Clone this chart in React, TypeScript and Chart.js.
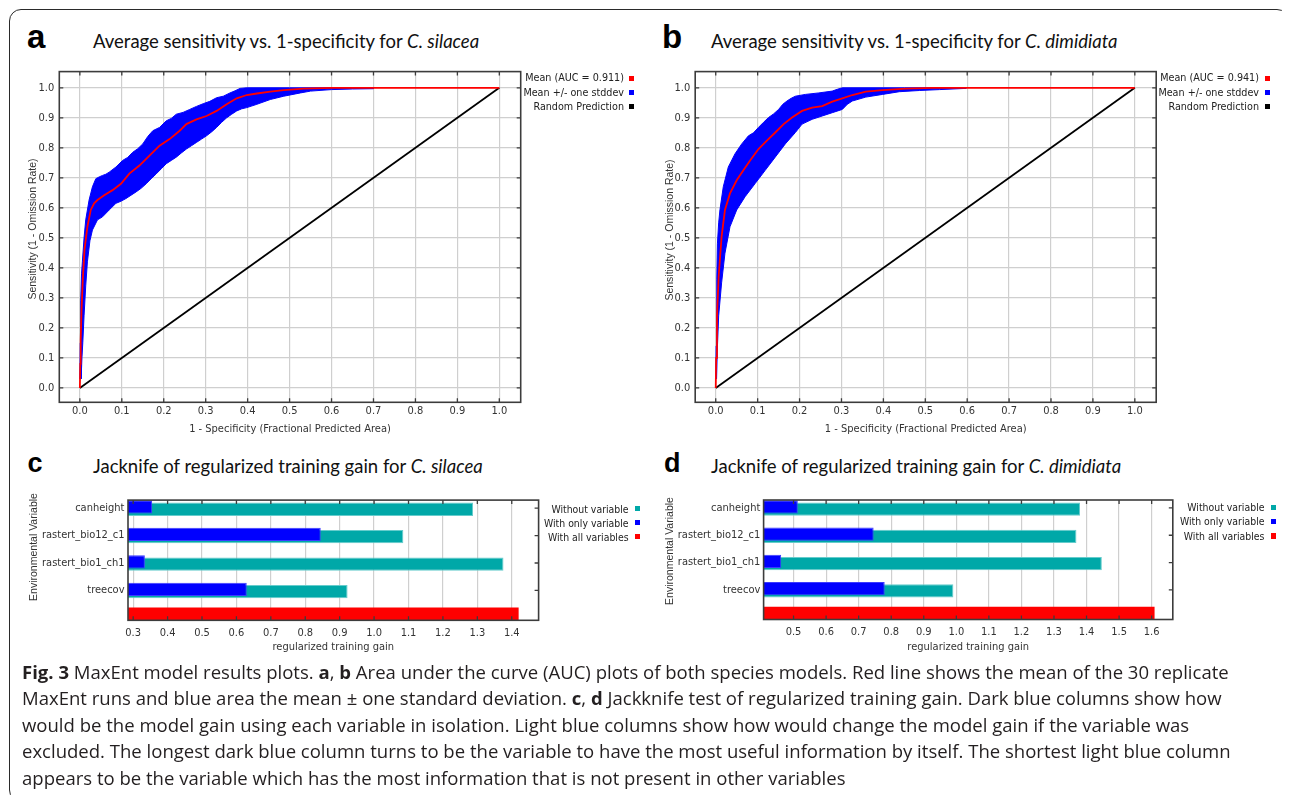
import React, { useEffect, useRef } from "react";
import { Chart, registerables } from "chart.js";

Chart.register(...registerables);

// ---------------- data ----------------
const ROC_TICKS = [0, 0.1, 0.2, 0.3, 0.4, 0.5, 0.6, 0.7, 0.8, 0.9, 1.0];
const RANDOM_X = [0, 1];
const RANDOM_Y = [0, 1];

// Panel a (C. silacea)
const A_MEAN_X = [0, 0.001, 0.002, 0.004, 0.007, 0.011, 0.018, 0.026, 0.034, 0.042, 0.058, 0.078, 0.098, 0.118, 0.142, 0.166, 0.19, 0.214, 0.238, 0.254, 0.278, 0.302, 0.326, 0.35, 0.374, 0.398, 0.422, 0.454, 0.486, 0.534, 0.6, 1.0];
const A_MEAN_Y = [0, 0.08, 0.16, 0.26, 0.36, 0.46, 0.537, 0.593, 0.615, 0.626, 0.642, 0.659, 0.68, 0.714, 0.741, 0.774, 0.807, 0.829, 0.857, 0.879, 0.895, 0.906, 0.923, 0.945, 0.965, 0.976, 0.981, 0.987, 0.992, 0.997, 1.0, 1.0];
const A_UPPER_X = [0, 0.001, 0.002, 0.004, 0.006, 0.01, 0.014, 0.022, 0.03, 0.038, 0.046, 0.054, 0.062, 0.07, 0.086, 0.102, 0.114, 0.126, 0.138, 0.15, 0.162, 0.174, 0.19, 0.206, 0.218, 0.23, 0.246, 0.262, 0.278, 0.294, 0.31, 0.326, 0.342, 0.358, 0.37, 0.382, 0.398, 0.5, 0.6, 0.7];
const A_UPPER_Y = [0.03, 0.15, 0.29, 0.38, 0.42, 0.5, 0.56, 0.626, 0.67, 0.697, 0.703, 0.708, 0.712, 0.719, 0.736, 0.758, 0.768, 0.785, 0.797, 0.813, 0.838, 0.857, 0.868, 0.89, 0.898, 0.912, 0.918, 0.928, 0.938, 0.947, 0.955, 0.967, 0.972, 0.983, 0.99, 0.998, 1.0, 1.0, 1.0, 0.999];
const A_LOWER_X = [0.003, 0.005, 0.007, 0.01, 0.014, 0.018, 0.024, 0.03, 0.042, 0.054, 0.07, 0.086, 0.098, 0.11, 0.122, 0.134, 0.146, 0.158, 0.17, 0.182, 0.194, 0.206, 0.218, 0.23, 0.242, 0.254, 0.266, 0.278, 0.29, 0.302, 0.314, 0.326, 0.338, 0.35, 0.362, 0.374, 0.386, 0.398, 0.422, 0.454, 0.486, 0.526, 0.55, 0.6, 0.65, 0.7];
const A_LOWER_Y = [0.03, 0.1, 0.15, 0.24, 0.34, 0.42, 0.49, 0.526, 0.56, 0.57, 0.593, 0.615, 0.622, 0.631, 0.642, 0.653, 0.665, 0.68, 0.697, 0.713, 0.73, 0.747, 0.758, 0.769, 0.783, 0.796, 0.807, 0.818, 0.829, 0.84, 0.853, 0.868, 0.885, 0.9, 0.912, 0.923, 0.93, 0.934, 0.945, 0.961, 0.972, 0.983, 0.989, 0.994, 0.996, 0.997];

// Panel b (C. dimidiata)
const B_MEAN_X = [0, 0.001, 0.003, 0.007, 0.014, 0.022, 0.034, 0.05, 0.066, 0.082, 0.102, 0.122, 0.142, 0.162, 0.182, 0.206, 0.23, 0.254, 0.278, 0.302, 0.326, 0.358, 0.398, 0.454, 0.518, 1.0];
const B_MEAN_Y = [0, 0.1, 0.24, 0.372, 0.504, 0.593, 0.648, 0.692, 0.725, 0.758, 0.796, 0.824, 0.851, 0.879, 0.901, 0.923, 0.934, 0.939, 0.954, 0.965, 0.976, 0.987, 0.992, 0.997, 1.0, 1.0];
const B_UPPER_X = [0, 0.001, 0.002, 0.003, 0.004, 0.007, 0.01, 0.018, 0.03, 0.046, 0.062, 0.078, 0.09, 0.102, 0.114, 0.126, 0.138, 0.15, 0.16, 0.17, 0.18, 0.19, 0.214, 0.246, 0.278, 0.29, 0.302, 0.45, 0.597];
const B_UPPER_Y = [0.03, 0.14, 0.24, 0.36, 0.48, 0.55, 0.593, 0.67, 0.736, 0.78, 0.813, 0.84, 0.85, 0.868, 0.885, 0.901, 0.913, 0.928, 0.945, 0.956, 0.965, 0.972, 0.978, 0.983, 0.989, 0.995, 1.0, 1.0, 1.0];
const B_LOWER_X = [0.002, 0.004, 0.007, 0.014, 0.022, 0.034, 0.05, 0.07, 0.094, 0.118, 0.142, 0.166, 0.19, 0.206, 0.23, 0.254, 0.278, 0.302, 0.314, 0.326, 0.358, 0.398, 0.438, 0.486, 0.534, 0.597];
const B_LOWER_Y = [0.03, 0.136, 0.24, 0.35, 0.449, 0.537, 0.593, 0.637, 0.681, 0.725, 0.769, 0.813, 0.851, 0.879, 0.895, 0.906, 0.917, 0.928, 0.945, 0.956, 0.969, 0.978, 0.987, 0.991, 0.994, 0.998];

const ROC_LEGEND_A = ["Mean (AUC = 0.911)", "Mean +/- one stddev", "Random Prediction"];
const ROC_LEGEND_B = ["Mean (AUC = 0.941)", "Mean +/- one stddev", "Random Prediction"];
const ROC_COLORS = ["#ff0000", "#0000ff", "#000000"];

// Jackknife panels
const JK_CATEGORIES = ["canheight", "rastert_bio12_c1", "rastert_bio1_ch1", "treecov", ""];
const C_WITHOUT = [1.2875, 1.085, 1.376, 0.923, null];
const C_WITH_ONLY = [0.355, 0.845, 0.334, 0.63, null];
const C_WITH_ALL = [null, null, null, null, 1.42];
const C_TICKS = [0.3, 0.4, 0.5, 0.6, 0.7, 0.8, 0.9, 1.0, 1.1, 1.2, 1.3, 1.4];
const D_WITHOUT = [1.38, 1.369, 1.447, 0.991, null];
const D_WITH_ONLY = [0.513, 0.746, 0.462, 0.78, null];
const D_WITH_ALL = [null, null, null, null, 1.609];
const D_TICKS = [0.5, 0.6, 0.7, 0.8, 0.9, 1.0, 1.1, 1.2, 1.3, 1.4, 1.5, 1.6];
const JK_LEGEND = ["Without variable", "With only variable", "With all variables"];
const JK_COLORS = ["#00a8a8", "#0000ff", "#ff0000"];

// ---------------- styling ----------------
const NARROW = "'Liberation Sans Narrow','Arial Narrow','DejaVu Sans Condensed','Liberation Sans',sans-serif";
const ARIAL = "'Liberation Sans',Arial,sans-serif";
const GRID = "#cfcfcf";
const FRAME = "#3c3c3c";
const TXT = "#333333";

const pts = (xs: number[], ys: number[]) => xs.map((x, i) => ({ x, y: ys[i] }));

function framePlugin(sides: { top?: boolean; bottom?: boolean; left?: boolean; right?: boolean }) {
  return {
    id: "frameTicks",
    afterDatasetsDraw(chart: any) {
      const { ctx, chartArea: a, scales } = chart;
      const len = 4;
      ctx.save();
      ctx.strokeStyle = FRAME;
      ctx.lineWidth = 1.3;
      ctx.beginPath();
      for (const t of scales.x.ticks) {
        const px = scales.x.getPixelForValue(t.value);
        if (sides.top) { ctx.moveTo(px, a.top); ctx.lineTo(px, a.top + len); }
        if (sides.bottom) { ctx.moveTo(px, a.bottom); ctx.lineTo(px, a.bottom - len); }
      }
      for (const t of scales.y.ticks) {
        if (t.label === "") continue;
        const py = scales.y.getPixelForValue(t.value);
        if (sides.left) { ctx.moveTo(a.left, py); ctx.lineTo(a.left + len, py); }
        if (sides.right) { ctx.moveTo(a.right, py); ctx.lineTo(a.right - len, py); }
      }
      ctx.stroke();
      ctx.lineWidth = 1.6;
      ctx.strokeRect(a.left, a.top, a.right - a.left, a.bottom - a.top);
      ctx.restore();
    },
  };
}

function rocConfig(mx: number[], my: number[], ux: number[], uy: number[], lx: number[], ly: number[], geo: any) {
  const band = [...pts(ux, uy), ...pts(lx, ly).reverse()];
  return {
    type: "scatter",
    data: {
      datasets: [
        { label: "Mean", data: pts(mx, my), showLine: true, borderColor: "#ff0000", borderWidth: 1.8, pointRadius: 0, order: 0 },
        { label: "Random Prediction", data: pts(RANDOM_X, RANDOM_Y), showLine: true, borderColor: "#000000", borderWidth: 1.8, pointRadius: 0, order: 1 },
        { label: "Mean +/- one stddev", data: band, showLine: true, borderColor: "#0000ff", borderWidth: 1, backgroundColor: "#0000ff", fill: "shape", pointRadius: 0, order: 2 },
      ],
    },
    options: {
      responsive: false,
      animation: false,
      events: [],
      layout: { padding: { left: 0, top: geo.top, right: geo.right, bottom: 0 } },
      plugins: { legend: { display: false }, tooltip: { enabled: false } },
      scales: {
        x: {
          type: "linear",
          min: -0.049,
          max: 1.051,
          afterBuildTicks: (s: any) => { s.ticks = ROC_TICKS.map((v) => ({ value: v })); },
          afterFit: (s: any) => { s.height = geo.xh; },
          ticks: { callback: (v: any) => Number(v).toFixed(1), font: { family: NARROW, size: 11 }, color: TXT, padding: 2, autoSkip: false, maxRotation: 0 },
          grid: { color: GRID, lineWidth: 1.2, drawTicks: false },
          border: { display: false },
          title: { display: true, text: "1 - Specificity (Fractional Predicted Area)", font: { family: NARROW, size: 11 }, color: TXT, padding: { top: 0, bottom: 9.4 } },
        },
        y: {
          type: "linear",
          min: -0.048,
          max: 1.054,
          afterBuildTicks: (s: any) => { s.ticks = ROC_TICKS.map((v) => ({ value: v })); },
          afterFit: (s: any) => { s.width = geo.yw; },
          ticks: { callback: (v: any) => Number(v).toFixed(1), font: { family: NARROW, size: 11 }, color: TXT, padding: 5, autoSkip: false },
          grid: { color: GRID, lineWidth: 1.2, drawTicks: false },
          border: { display: false },
        },
      },
    },
    plugins: [framePlugin({ top: true, bottom: true, left: true, right: true })],
  };
}

function jkConfig(without: any[], only: any[], all: any[], ticks: number[], xmin: number, xmax: number, geo: any) {
  const rows = (vals: any[]) => vals.map((v, i) => ({ x: v, y: i }));
  return {
    type: "bar",
    data: {
      datasets: [
        { label: "With only variable", data: rows(only), backgroundColor: "#0000ff", borderColor: "#3a3aff", borderWidth: 1, skipNull: true, categoryPercentage: 0.168, barPercentage: 5.78, clip: 0 },
        { label: "Without variable", data: rows(without), backgroundColor: "#00a8a8", borderColor: "#66cccc", borderWidth: 1, skipNull: true, categoryPercentage: 0.168, barPercentage: 5.78, clip: 0 },
        { label: "With all variables", data: rows(all), backgroundColor: "#ff0000", borderColor: "#ff2020", borderWidth: 0, skipNull: true, categoryPercentage: 1, barPercentage: 0.75, clip: 0 },
      ],
    },
    options: {
      indexAxis: "y",
      responsive: false,
      animation: false,
      events: [],
      layout: { padding: { left: 0, top: geo.top, right: geo.right, bottom: 0 } },
      plugins: { legend: { display: false }, tooltip: { enabled: false } },
      scales: {
        x: {
          type: "linear",
          min: xmin,
          max: xmax,
          afterBuildTicks: (s: any) => { s.ticks = ticks.map((v) => ({ value: v })); },
          afterFit: (s: any) => { s.height = geo.xh; },
          ticks: { callback: (v: any) => Number(v).toFixed(1), font: { family: NARROW, size: 11 }, color: TXT, padding: 6, autoSkip: false, maxRotation: 0 },
          grid: { color: GRID, lineWidth: 1.2, drawTicks: false },
          border: { display: false },
          title: { display: true, text: "regularized training gain", font: { family: NARROW, size: 11 }, color: TXT, padding: { top: 0, bottom: 5.9 } },
        },
        y: {
          type: "linear",
          offset: false,
          reverse: true,
          min: -0.292,
          max: 4.088,
          afterBuildTicks: (s: any) => { s.ticks = JK_CATEGORIES.map((_, i) => ({ value: i })); },
          afterFit: (s: any) => { s.width = geo.yw; },
          ticks: { callback: (v: any) => JK_CATEGORIES[v] ?? "", font: { family: NARROW, size: 11 }, color: TXT, padding: geo.ypad, autoSkip: false },
          grid: { display: false, drawTicks: false, offset: false },
          border: { display: false },
        },
      },
    },
    plugins: [framePlugin({ top: true, bottom: true, right: true })],
  };
}

function ChartBox({ x, y, w, h, config }: { x: number; y: number; w: number; h: number; config: any }) {
  const ref = useRef<HTMLCanvasElement>(null);
  useEffect(() => {
    const chart = new Chart(ref.current as HTMLCanvasElement, config);
    return () => chart.destroy();
  }, []);
  return (
    <canvas ref={ref} width={w} height={h} style={{ position: "absolute", left: x - 8, top: y - 8, width: w, height: h }} />
  );
}

const at = (x: number, y: number): React.CSSProperties => ({ position: "absolute", left: x - 8, top: y - 8 });

function Legend({ items, colors, textRight, boxLeft, ys, size }: { items: string[]; colors: string[]; textRight: number; boxLeft: number; ys: number[]; size: number }) {
  return (
    <>
      {items.map((t, i) => (
        <React.Fragment key={t}>
          <div style={{ ...at(textRight - 200, ys[i] - 7), width: 200, height: 14, lineHeight: "14px", textAlign: "right", fontFamily: NARROW, fontSize: size, color: "#222", whiteSpace: "nowrap" }}>{t}</div>
          <div style={{ ...at(boxLeft, ys[i] - 2.7), width: 5.4, height: 5.4, background: colors[i] }} />
        </React.Fragment>
      ))}
    </>
  );
}

function YTitle({ cx, cy, text }: { cx: number; cy: number; text: string }) {
  return (
    <div style={{ ...at(cx, cy), transform: "translate(-50%, -50%) rotate(-90deg)", fontFamily: ARIAL, fontSize: 10.5, color: TXT, whiteSpace: "nowrap", lineHeight: "12px" }}>{text}</div>
  );
}

const LABEL_BIG: React.CSSProperties = { fontFamily: ARIAL, fontWeight: 700, fontSize: 33, lineHeight: "33px", color: "#000" };
const LABEL_SMALL: React.CSSProperties = { fontFamily: ARIAL, fontWeight: 700, fontSize: 27, lineHeight: "27px", color: "#000" };
const TITLE: React.CSSProperties = { fontFamily: "Lato, 'Open Sans', sans-serif", fontSize: 18.5, lineHeight: "18.5px", color: "#111", whiteSpace: "nowrap" };

export default function App() {
  useEffect(() => {
    document.body.style.overflow = "hidden";
  }, []);

  const cfgA = rocConfig(A_MEAN_X, A_MEAN_Y, A_UPPER_X, A_UPPER_Y, A_LOWER_X, A_LOWER_Y, { top: 9.3, right: 16.3, yw: 47.3, xh: 42.7 });
  const cfgB = rocConfig(B_MEAN_X, B_MEAN_Y, B_UPPER_X, B_UPPER_Y, B_LOWER_X, B_LOWER_Y, { top: 9.3, right: 15.8, yw: 48.2, xh: 42.7 });
  const cfgC = jkConfig(C_WITHOUT, C_WITH_ONLY, C_WITH_ALL, C_TICKS, 0.285, 1.478, { top: 10, right: 6.4, yw: 88, xh: 39.7, ypad: 3.5 });
  const cfgD = jkConfig(D_WITHOUT, D_WITH_ONLY, D_WITH_ALL, D_TICKS, 0.408, 1.665, { top: 10, right: 12.2, yw: 95.6, xh: 40.5, ypad: 3.3 });

  const caption: React.CSSProperties = { fontFamily: "'Open Sans', sans-serif", fontSize: 18.55, lineHeight: "26.4px", color: "#231f20", whiteSpace: "pre" };

  return (
    <div style={{ position: "relative", width: 1282, height: 795, marginBottom: -8, overflow: "hidden" }}>
      <div style={{ position: "absolute", left: 0.5, top: 0.5, width: 1280.5, height: 793.5, border: "1.5px solid #2a2a2a", borderRadius: 12, boxSizing: "border-box" }} />

      <div style={{ ...at(27, 20.4), ...LABEL_BIG }}>a</div>
      <div style={{ ...at(662, 20.4), ...LABEL_BIG }}>b</div>
      <div style={{ ...at(27.5, 450.4), ...LABEL_SMALL }}>c</div>
      <div style={{ ...at(664, 450.4), ...LABEL_SMALL }}>d</div>

      <div style={{ ...at(93, 31.9), ...TITLE }}>Average sensitivity vs. 1-specificity for <i>C. silacea</i></div>
      <div style={{ ...at(711, 31.9), ...TITLE }}>Average sensitivity vs. 1-specificity for <i>C. dimidiata</i></div>
      <div style={{ ...at(93, 456.9), ...TITLE }}>Jacknife of regularized training gain for <i>C. silacea</i></div>
      <div style={{ ...at(711, 456.9), ...TITLE }}>Jacknife of regularized training gain for <i>C. dimidiata</i></div>

      <ChartBox x={12} y={60} w={525} h={385} config={cfgA} />
      <ChartBox x={647} y={60} w={525} h={385} config={cfgB} />
      <ChartBox x={40} y={490} w={505} h={170} config={cfgC} />
      <ChartBox x={668} y={490} w={517} h={170} config={cfgD} />

      <YTitle cx={32} cy={229} text="Sensitivity (1 - Omission Rate)" />
      <YTitle cx={668.6} cy={229.5} text="Sensitivity (1 - Omission Rate)" />
      <YTitle cx={33} cy={547} text="Environmental Variable" />
      <YTitle cx={669} cy={551} text="Environmental Variable" />

      <Legend items={ROC_LEGEND_A} colors={ROC_COLORS} textRight={624} boxLeft={628.6} ys={[78.3, 92.7, 106.7]} size={10.7} />
      <Legend items={ROC_LEGEND_B} colors={ROC_COLORS} textRight={1259} boxLeft={1264.5} ys={[78.3, 92.7, 106.7]} size={10.7} />
      <Legend items={JK_LEGEND} colors={JK_COLORS} textRight={628.6} boxLeft={635} ys={[508.5, 522.5, 536.8]} size={10.4} />
      <Legend items={JK_LEGEND} colors={JK_COLORS} textRight={1264.5} boxLeft={1270.7} ys={[507.3, 521.3, 536]} size={10.4} />

      <div style={{ ...at(22, 659), ...caption }}>
        <div><b>Fig. 3</b> MaxEnt model results plots. <b>a</b>, <b>b</b> Area under the curve (AUC) plots of both species models. Red line shows the mean of the 30 replicate</div>
        <div>MaxEnt runs and blue area the mean ± one standard deviation. <b>c</b>, <b>d</b> Jackknife test of regularized training gain. Dark blue columns show how</div>
        <div>would be the model gain using each variable in isolation. Light blue columns show how would change the model gain if the variable was</div>
        <div>excluded. The longest dark blue column turns to be the variable to have the most useful information by itself. The shortest light blue column</div>
        <div>appears to be the variable which has the most information that is not present in other variables</div>
      </div>
    </div>
  );
}
